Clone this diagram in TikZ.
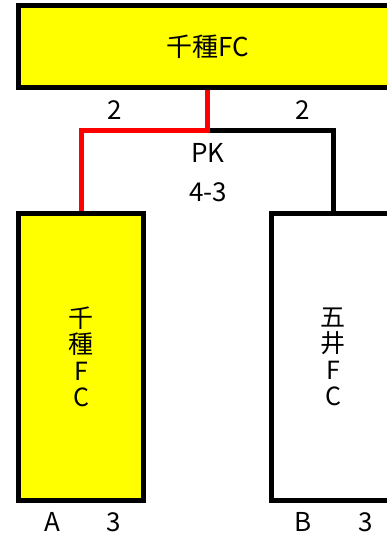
\documentclass[tikz,border=0pt]{standalone}
\usepackage{fontspec}
\setmainfont{Noto Sans CJK JP}
\usetikzlibrary{positioning}
\definecolor{win_yellow}{RGB}{255,255,0}
\definecolor{win_red}{RGB}{255,0,0}

\begin{document}
\begin{tikzpicture}[x=1pt, y=-1pt]
	\tikzstyle{team_style}=[rectangle, draw, line width=5pt, inner sep=0pt, align=center, font=\fontsize{25}{26.5}\selectfont]
	\tikzstyle{label_style}=[inner sep=0pt, font=\fontsize{26}{30}\selectfont]
	\useasboundingbox (0,0) rectangle (387,539);
	\clip (0,0) rectangle (387,539);
	% winner
	\node at (207.5, 46.5) [team_style, fill=win_yellow, minimum width=378, minimum height=82, font=\fontsize{26}{30}\selectfont] (champ) {千種FC};
	% teams
	\node at (81, 357) [team_style, fill=win_yellow, minimum width=125, minimum height=287] (team_a) {千\\種\\F\\C};
	\node at (333, 357) [team_style, fill=white, minimum width=123, minimum height=287] (team_b) {五\\井\\F\\C};
	% join point
	\coordinate (pk) at (207.5, 130);
	% scores
	\node at (115, 110) [label_style] (score_a) {2};
	\node at (303, 110) [label_style] (score_b) {2};
	\node at (208, 153) [label_style] (pk_label) {PK};
	\node at (208, 192) [label_style] (pk_score) {4-3};
	% blocks
	\node at (52, 522) [label_style] (block_a) {A};
	\node at (114, 522) [label_style] (seed_a) {3};
	\node at (303, 522) [label_style] (block_b) {B};
	\node at (366, 522) [label_style] (seed_b) {3};
	% connect: teams -> winner
	\draw[line width=5pt] (pk) -| (team_b.north);
	\draw[line width=5pt, win_red] (champ.south) -- (pk) -| (team_a.north);
\end{tikzpicture}
\end{document}
